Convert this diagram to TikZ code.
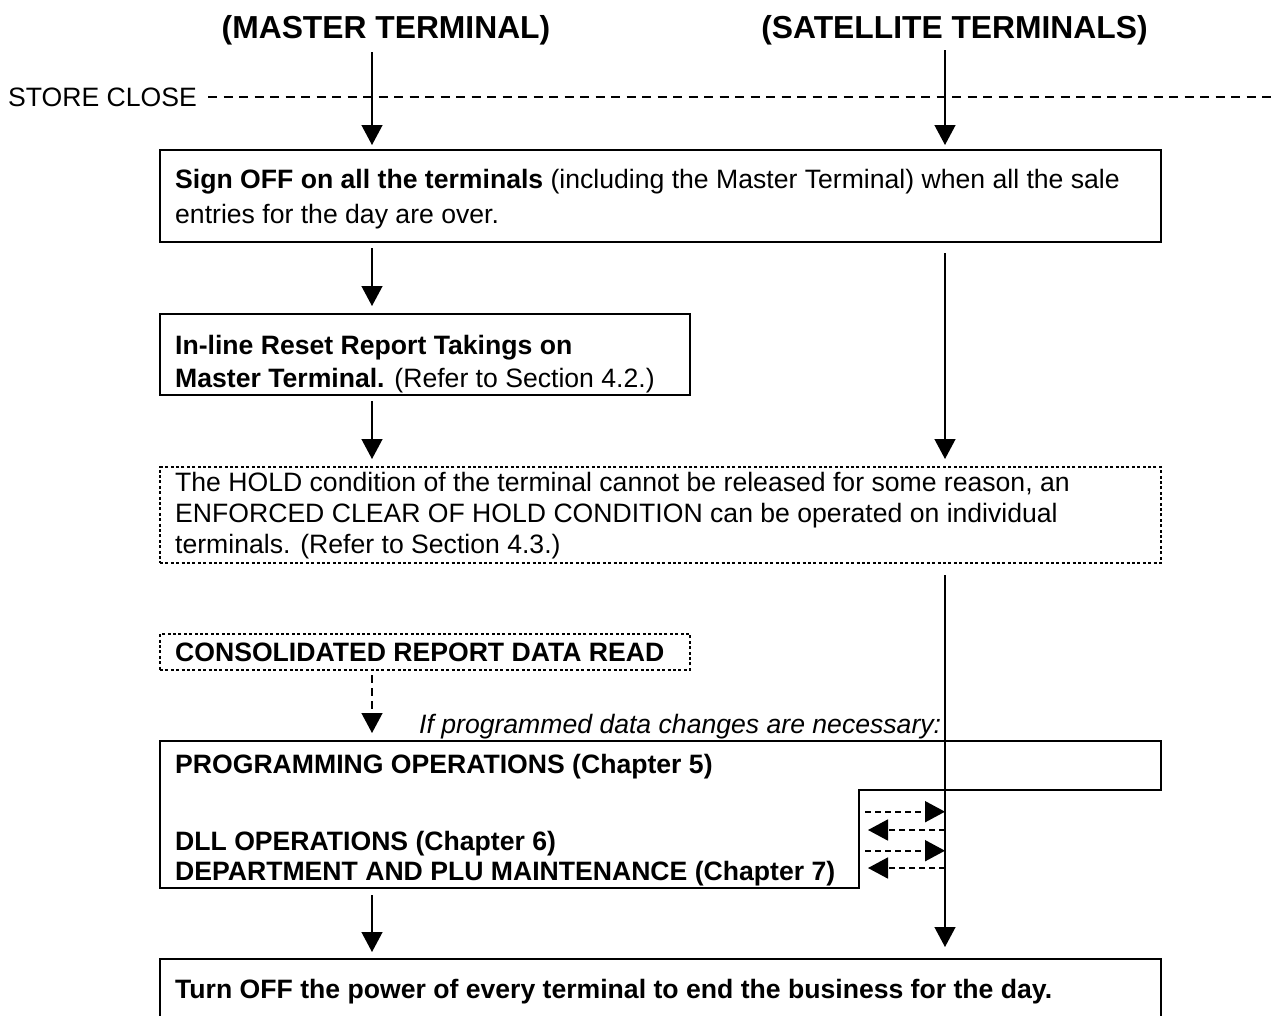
\documentclass[tikz,border=0pt]{standalone}
\usepackage{fontspec}
\setmainfont{Liberation Sans}
\usetikzlibrary{arrows.meta}
\tikzset{
  box/.style={draw, line width=2.6pt, inner sep=0pt, outer sep=0pt, anchor=north west},
  dotbox/.style={draw, line width=2pt, dash pattern=on 3pt off 2.4pt, inner sep=0pt, outer sep=0pt, anchor=north west},
  txt/.style={inner sep=0pt, anchor=base west, font=\fontsize{26.6}{30}\selectfont},
  ttl/.style={inner sep=0pt, anchor=base, font=\fontsize{31.8}{36}\selectfont\bfseries},
  flow/.style={line width=1.3pt, -{Triangle[length=20pt,width=21pt]}},
  dflow/.style={line width=1.3pt, dash pattern=on 8pt off 5pt, -{Triangle[length=20pt,width=21pt]}},
  sflow/.style={line width=1.8pt, dash pattern=on 6pt off 4pt, -{Triangle[length=20pt,width=21pt]}},
  closeline/.style={line width=2pt, dash pattern=on 9pt off 6.5pt},
  outline/.style={line width=2.6pt}
}
\begin{document}
\begin{tikzpicture}[x=1pt,y=-1pt]
\useasboundingbox (0,0) rectangle (1277,1015);
\clip (0,0) rectangle (1277,1015);
% columns
\coordinate (mx) at (372,0);
\coordinate (sx) at (945,0);
% titles
\node[ttl] (tm) at (386,38.5) {(MASTER TERMINAL)};
\node[ttl] (ts) at (954.5,38.5) {(SATELLITE TERMINALS)};
% store close
\node[txt] (sc) at (8,106.5) {STORE CLOSE};
\coordinate (scend) at (1277,97.3);
\draw[closeline] (sc.east |- scend) ++(11,0) -- (scend);
% box 1
\node[box, minimum width=1001pt, minimum height=92pt] (b1) at (160,150) {};
\node[txt] (t1a) at (175,188) {\textbf{Sign OFF on all the terminals} (including the Master Terminal) when all the sale};
\node[txt] (t1b) at (175,223) {entries for the day are over.};
% box 2
\node[box, minimum width=530pt, minimum height=81pt] (b2) at (160,314) {};
\node[txt] (t2a) at (175,354) {\textbf{In-line Reset Report Takings on}};
\node[txt] (t2b) at (175,387) {\textbf{Master Terminal.} (Refer to Section 4.2.)};
% hold box
\node[dotbox, minimum width=1001pt, minimum height=96pt] (hold) at (160,467) {};
\node[txt] (t3a) at (175,491.5) {The HOLD condition of the terminal cannot be released for some reason, an};
\node[txt] (t3b) at (175,522) {ENFORCED CLEAR OF HOLD CONDITION can be operated on individual};
\node[txt] (t3c) at (175,553) {terminals. (Refer to Section 4.3.)};
% consolidated box
\node[dotbox, minimum width=530pt, minimum height=36pt] (cons) at (160,634) {};
\node[txt] (t4) at (175,661.5) {\textbf{CONSOLIDATED REPORT DATA READ}};
% note
\node[txt] (note) at (419,733) {\itshape If programmed data changes are necessary:};
% programming box outline
\coordinate (p1) at (160,741);
\coordinate (p2) at (1161,741);
\coordinate (p3) at (1161,790);
\coordinate (p4) at (859,790);
\coordinate (p5) at (859,888);
\coordinate (p6) at (160,888);
\draw[outline] (p1) -- (p2) -- (p3) -- (p4) -- (p5) -- (p6) -- cycle;
\node[txt] (t5a) at (175,773) {\textbf{PROGRAMMING OPERATIONS (Chapter 5)}};
\node[txt] (t5b) at (175,850) {\textbf{DLL OPERATIONS (Chapter 6)}};
\node[txt] (t5c) at (175,880) {\textbf{DEPARTMENT AND PLU MAINTENANCE (Chapter 7)}};
% bottom box
\node[box, minimum width=1001pt, minimum height=90pt] (b6) at (160,959) {};
\node[txt] (t6) at (175,998) {\textbf{Turn OFF the power of every terminal to end the business for the day.}};
% master column arrows
\draw[flow, shorten <=7pt, shorten >=5pt] (mx |- tm.south) -- (mx |- b1.north);
\draw[flow, shorten <=6pt, shorten >=8pt] (mx |- b1.south) -- (mx |- b2.north);
\draw[flow, shorten <=6pt, shorten >=8pt] (mx |- b2.south) -- (mx |- hold.north);
\draw[dflow, shorten <=5pt, shorten >=8pt] (mx |- cons.south) -- (mx |- p1);
\draw[flow, shorten <=7pt, shorten >=7pt] (mx |- p6) -- (mx |- b6.north);
% satellite column arrows
\draw[flow, shorten <=5pt, shorten >=5pt] (sx |- ts.south) -- (sx |- b1.north);
\draw[flow, shorten <=11pt, shorten >=8pt] (sx |- b1.south) -- (sx |- hold.north);
\draw[flow, shorten <=12pt, shorten >=12pt] (sx |- hold.south) -- (sx |- b6.north);
% small dashed exchange arrows
\coordinate (r1) at (865,811.7);
\coordinate (l1) at (868,830);
\coordinate (r2) at (865,850.7);
\coordinate (l2) at (868,868);
\draw[sflow] (r1) -- (r1 -| sx);
\draw[sflow] (l1 -| sx) -- (l1);
\draw[sflow] (r2) -- (r2 -| sx);
\draw[sflow] (l2 -| sx) -- (l2);
\end{tikzpicture}
\end{document}
